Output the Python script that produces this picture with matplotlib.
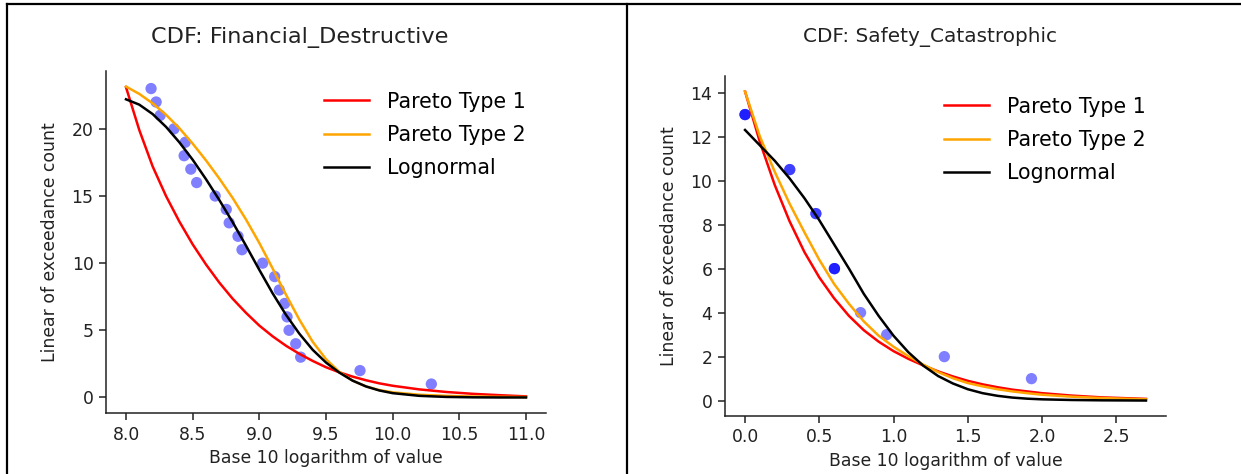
# exceedance CDF plots, two event classes side by side

import matplotlib
matplotlib.use('Agg')
import matplotlib.pyplot as plt
from matplotlib.lines import Line2D

# ------ Financial_Destructive ------
fin_x = [8.188, 8.226, 8.256, 8.36, 8.444, 8.436, 8.486, 8.53, 8.669, 8.752, 8.774, 8.84,
         8.87, 9.025, 9.115, 9.15, 9.19, 9.208, 9.223, 9.273, 9.31, 9.755, 10.29]
fin_y = [23, 22, 21, 20, 19, 18, 17, 16, 15, 14, 13, 12, 11, 10, 9, 8, 7, 6, 5, 4, 3, 2, 1]

fin_t = [8.0, 8.1, 8.2, 8.3, 8.4, 8.5, 8.6, 8.7, 8.8, 8.9, 9.0, 9.1, 9.2, 9.3, 9.4, 9.5,
         9.6, 9.7, 9.8, 9.9, 10.0, 10.2, 10.4, 10.6, 10.8, 11.0]
fin_par1 = [23.1, 19.9, 17.2, 15.0, 13.1, 11.4, 9.9, 8.55, 7.35, 6.3, 5.35, 4.55, 3.85, 3.25,
            2.72, 2.25, 1.87, 1.55, 1.28, 1.05, 0.87, 0.6, 0.41, 0.27, 0.17, 0.08]
fin_par2 = [23.15, 22.6, 21.9, 21.05, 20.05, 18.9, 17.65, 16.3, 14.85, 13.25, 11.5, 9.6, 7.65,
            5.8, 4.15, 2.85, 1.9, 1.25, 0.82, 0.55, 0.38, 0.2, 0.12, 0.07, 0.045, 0.03]
fin_logn = [22.2, 21.8, 21.1, 20.15, 19.0, 17.7, 16.25, 14.7, 13.05, 11.3, 9.5, 7.75, 6.15,
            4.75, 3.55, 2.6, 1.85, 1.25, 0.82, 0.52, 0.32, 0.12, 0.04, 0.01, 0.0, 0.0]

# ------ Safety_Catastrophic (ties repeated, one entry per event) ------
saf_x = [0.0, 0.0, 0.0, 0.301, 0.301, 0.477, 0.477, 0.602, 0.602, 0.602, 0.778, 0.954, 1.342, 1.929]
saf_y = [13, 13, 13, 10.5, 10.5, 8.5, 8.5, 6, 6, 6, 4, 3, 2, 1]

saf_t = [0.0, 0.1, 0.2, 0.3, 0.4, 0.5, 0.6, 0.7, 0.8, 0.9, 1.0, 1.1, 1.2, 1.3, 1.4, 1.5,
         1.6, 1.7, 1.8, 1.9, 2.0, 2.2, 2.4, 2.7]
saf_par1 = [14.05, 11.75, 9.8, 8.15, 6.75, 5.6, 4.65, 3.85, 3.2, 2.68, 2.25, 1.9, 1.6, 1.33,
            1.1, 0.9, 0.74, 0.61, 0.5, 0.42, 0.34, 0.23, 0.15, 0.08]
saf_par2 = [14.05, 12.0, 10.4, 8.95, 7.65, 6.4, 5.3, 4.4, 3.6, 2.95, 2.45, 2.02, 1.64, 1.3,
            1.02, 0.8, 0.65, 0.52, 0.42, 0.34, 0.27, 0.18, 0.12, 0.06]
saf_logn = [12.3, 11.6, 10.9, 10.1, 9.2, 8.2, 7.1, 6.0, 4.85, 3.85, 2.95, 2.2, 1.59, 1.12,
            0.78, 0.52, 0.34, 0.22, 0.14, 0.09, 0.06, 0.03, 0.015, 0.005]

labels = ['Pareto Type 1', 'Pareto Type 2', 'Lognormal']
colors = ['red', 'orange', 'black']

W, H = 1241, 474
fig = plt.figure(figsize=(W / 100, H / 100), dpi=100)


def px(x0, y0, x1, y1):
    # pixel box -> figure fraction rect
    return [x0 / W, 1 - y1 / H, (x1 - x0) / W, (y1 - y0) / H]


def cdf_panel(rect, px_, py_, t, curves, title, title_x, title_size):
    ax = fig.add_axes(rect)
    ax.scatter(px_, py_, color='blue', alpha=0.5, s=66, edgecolors='none')
    for c, col, lab in zip(curves, colors, labels):
        ax.plot(t, c, color=col, lw=1.8, label=lab)
    ax.spines['top'].set_visible(False)
    ax.spines['right'].set_visible(False)
    for s in ['left', 'bottom']:
        ax.spines[s].set_linewidth(1.1)
        ax.spines[s].set_color('#222222')
    ax.tick_params(labelsize=12.4, length=5, width=1.1, pad=4, colors='#222222')
    ax.set_xlabel('Base 10 logarithm of value', fontsize=12.4, color='#222222')
    ax.set_ylabel('Linear of exceedance count', fontsize=12.4, color='#222222', labelpad=9)
    ax.legend(loc='upper right', frameon=False, fontsize=14.8, handlelength=2.2,
              handletextpad=0.85, labelspacing=0.65, borderaxespad=0.6)
    fig.text(title_x / W, 1 - 37 / H, title, fontsize=title_size, ha='center', va='center',
             color='#222222')
    return ax


cdf_panel(px(106, 71, 546, 413), fin_x, fin_y, fin_t, [fin_par1, fin_par2, fin_logn],
          'CDF: Financial_Destructive', 300, 16.1)
cdf_panel(px(725, 76, 1166, 416), saf_x, saf_y, saf_t, [saf_par1, saf_par2, saf_logn],
          'CDF: Safety_Catastrophic', 930, 14.4)

# table borders around the two images
for xs, ys in [([7 / W, 1.0], [1 - 3.5 / H, 1 - 3.5 / H]),
               ([7 / W, 7 / W], [0.0, 1 - 3.5 / H]),
               ([627 / W, 627 / W], [0.0, 1 - 3.5 / H])]:
    fig.add_artist(Line2D(xs, ys, transform=fig.transFigure, color='black', lw=1.6))

plt.savefig('out.png', dpi=100)
